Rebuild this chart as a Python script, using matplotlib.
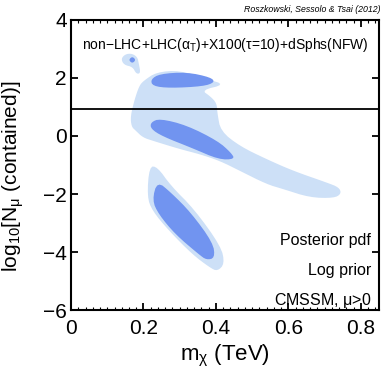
import numpy as np
import matplotlib.pyplot as plt
from matplotlib.ticker import MultipleLocator, FuncFormatter

plt.rcParams['font.family'] = ['Liberation Sans', 'DejaVu Sans']
plt.rcParams['mathtext.fontset'] = 'custom'
plt.rcParams['mathtext.rm'] = 'Liberation Sans'
plt.rcParams['mathtext.it'] = 'Liberation Sans'

# contour outlines (m_chi in TeV, log10 N_mu)
upper_68_x = [0.220, 0.245, 0.319, 0.386, 0.397, 0.365, 0.273, 0.225]
upper_68_y = [1.95, 2.14, 2.20, 2.02, 1.85, 1.71, 1.65, 1.72]

mid_68_x = [0.220, 0.245, 0.319, 0.405, 0.442, 0.452, 0.408, 0.335, 0.252, 0.220]
mid_68_y = [0.47, 0.60, 0.37, -0.17, -0.58, -0.80, -0.81, -0.42, -0.01, 0.25]

band_95_x = [0.188, 0.200, 0.236, 0.300, 0.376, 0.425, 0.360, 0.385, 0.402,
             0.404, 0.413, 0.466, 0.540, 0.613, 0.705, 0.740, 0.746, 0.726,
             0.659, 0.586, 0.540, 0.466, 0.411, 0.356, 0.300, 0.227, 0.198,
             0.178, 0.167, 0.164, 0.175]
band_95_y = [1.72, 1.90, 2.20, 2.26, 1.96, 1.77, 1.58, 1.36, 1.13,
             0.78, 0.17, -0.35, -0.80, -1.20, -1.60, -1.77, -1.99, -2.14,
             -2.12, -1.83, -1.66, -1.20, -0.86, -0.63, -0.45, -0.17, -0.05,
             0.19, 0.32, 0.67, 1.24]

blob_95_x = [0.138, 0.150, 0.168, 0.183, 0.187, 0.192, 0.180, 0.170, 0.146]
blob_95_y = [2.66, 2.82, 2.84, 2.72, 2.50, 2.16, 2.14, 2.38, 2.45]
blob_68_x = [0.159, 0.169, 0.179, 0.169]
blob_68_y = [2.62, 2.74, 2.62, 2.50]

low_95_x = [0.216, 0.238, 0.276, 0.340, 0.414, 0.424, 0.404, 0.383, 0.335, 0.270, 0.224, 0.210]
low_95_y = [-1.05, -1.06, -1.72, -2.52, -3.80, -4.40, -4.66, -4.53, -4.08, -3.26, -2.57, -2.09]

low_68_x = [0.238, 0.276, 0.331, 0.392, 0.397, 0.374, 0.353, 0.288, 0.242, 0.224]
low_68_y = [-1.56, -1.95, -2.64, -3.68, -4.20, -4.27, -4.08, -3.39, -2.70, -2.21]

hline_y = 0.93

light = '#cde0f7'
dark = '#7194f0'


def smooth(x, y, n=2):
    # Chaikin corner cutting on a closed outline
    p = np.column_stack([x, y])
    for _ in range(n):
        q = np.roll(p, -1, axis=0)
        a = 0.75 * p + 0.25 * q
        b = 0.25 * p + 0.75 * q
        p = np.empty((2 * len(a), 2))
        p[0::2] = a
        p[1::2] = b
    return p[:, 0], p[:, 1]


fig = plt.figure(figsize=(3.82, 3.82), dpi=100)
ax = fig.add_axes([0.186, 0.188, 0.806, 0.760])

for xs, ys in [(band_95_x, band_95_y), (blob_95_x, blob_95_y), (low_95_x, low_95_y)]:
    sx, sy = smooth(xs, ys)
    ax.fill(sx, sy, color=light, lw=0)
for xs, ys in [(upper_68_x, upper_68_y), (mid_68_x, mid_68_y), (blob_68_x, blob_68_y), (low_68_x, low_68_y)]:
    sx, sy = smooth(xs, ys)
    ax.fill(sx, sy, color=dark, lw=0)

ax.axhline(hline_y, color='black', lw=1.3)

ax.set_xlim(0, 0.85)
ax.set_ylim(-6, 4)
ax.xaxis.set_major_locator(MultipleLocator(0.2))
ax.xaxis.set_minor_locator(MultipleLocator(0.02))
ax.xaxis.set_major_formatter(FuncFormatter(lambda v, p: '%g' % round(v, 2)))
ax.yaxis.set_major_locator(MultipleLocator(2))
ax.yaxis.set_major_formatter(FuncFormatter(lambda v, p: ('%g' % v).replace('-', '\u2212')))
ax.tick_params(which='both', direction='in', top=True, right=True, labelsize=15)
ax.tick_params(axis='x', pad=6)
ax.tick_params(axis='y', pad=3)
ax.tick_params(which='major', length=5, width=1.3)
ax.tick_params(which='minor', length=2.5, width=0.8)
for s in ax.spines.values():
    s.set_linewidth(1.5)

ax.set_xlabel(r'm$_\chi$ (TeV)', fontsize=16, labelpad=4)
ax.set_ylabel(r'log$_{10}$[N$_\mu$ (contained)]', fontsize=15)
ax.yaxis.set_label_coords(-0.145, 0.46)

ax.text(0.425, 3.14, r'non$-$LHC+LHC($\alpha_{\rm T}$)+X100($\tau$=10)+dSphs(NFW)',
        fontsize=10, ha='center', va='center')
ax.text(0.829, -3.61, 'Posterior pdf', fontsize=11.5, ha='right', va='center')
ax.text(0.829, -4.62, 'Log prior', fontsize=11.5, ha='right', va='center')
ax.text(0.829, -5.66, r'CMSSM, $\mu$>0', fontsize=11.5, ha='right', va='center')
fig.text(0.995, 0.975, 'Roszkowski, Sessolo & Tsai (2012)', fontsize=6.3, style='italic',
         ha='right', va='center')

fig.savefig('out.png', dpi=100)
